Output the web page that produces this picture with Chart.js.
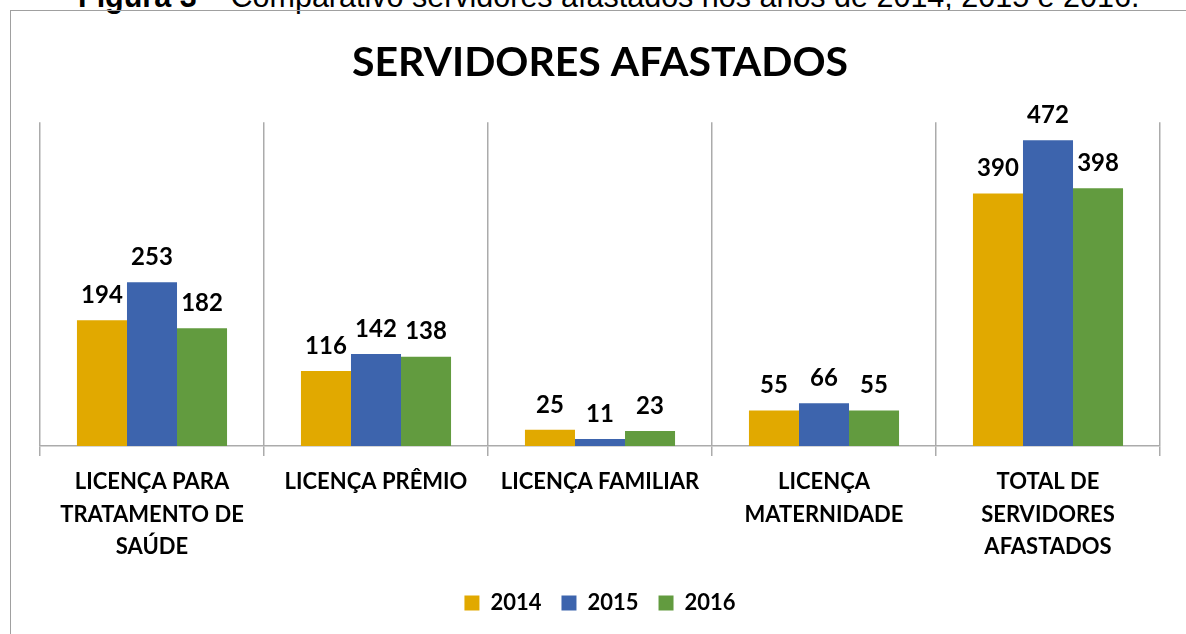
<!DOCTYPE html>
<html>
<head>
<meta charset="utf-8">
<script src="https://cdn.jsdelivr.net/npm/chart.js@4.4.1/dist/chart.umd.min.js"></script>
<style>
  html, body { margin: 0; padding: 0; background: #fff; overflow: hidden; }
  #wrap { position: relative; width: 1186px; height: 634px; overflow: hidden; }
  #caption { position: absolute; left: 78px; top: -19px; font: 30.5px/30px "Liberation Sans", Arial, sans-serif; color: #000; white-space: nowrap; }
  #caption b { font-weight: bold; }
  #frame { position: absolute; left: 10px; top: 10px; width: 1300px; height: 800px; border: 1px solid #a0a0a0; }
  #c { position: absolute; left: 0; top: 0; }
</style>
</head>
<body>
<div id="wrap">
  <div id="caption"><b>Figura 3</b> – Comparativo servidores afastados nos anos de 2014, 2015 e 2016.</div>
  <div id="frame"></div>
  <canvas id="c" width="1186" height="634"></canvas>
</div>
<script>
const categories = [
  ["LICENÇA PARA", "TRATAMENTO DE", "SAÚDE"],
  ["LICENÇA PRÊMIO"],
  ["LICENÇA FAMILIAR"],
  ["LICENÇA", "MATERNIDADE"],
  ["TOTAL DE", "SERVIDORES", "AFASTADOS"]
];
const seriesNames = ["2014", "2015", "2016"];
const values2014 = [194, 116, 25, 55, 390];
const values2015 = [253, 142, 11, 66, 472];
const values2016 = [182, 138, 23, 55, 398];
const seriesColors = ["#E1A900", "#3D64AD", "#629B3F"];

const FONT = "Lato, 'Open Sans', sans-serif";

const dataLabels = {
  id: 'dataLabels',
  afterDatasetsDraw(chart) {
    const ctx = chart.ctx;
    ctx.save();
    ctx.font = "bold 24px " + FONT;
    ctx.fillStyle = "#000";
    ctx.textAlign = "center";
    ctx.textBaseline = "middle";
    chart.data.datasets.forEach((ds, i) => {
      const meta = chart.getDatasetMeta(i);
      meta.data.forEach((bar, j) => {
        ctx.fillText(String(ds.data[j]), bar.x, bar.y - 25);
      });
    });
    ctx.restore();
  }
};

new Chart(document.getElementById('c'), {
  type: 'bar',
  data: {
    labels: categories,
    datasets: [
      { label: seriesNames[0], data: values2014, backgroundColor: seriesColors[0] },
      { label: seriesNames[1], data: values2015, backgroundColor: seriesColors[1] },
      { label: seriesNames[2], data: values2016, backgroundColor: seriesColors[2] }
    ]
  },
  options: {
    responsive: false,
    animation: false,
    devicePixelRatio: 1,
    layout: { padding: { left: 40, right: 26, top: 0, bottom: 10 } },
    datasets: { bar: { categoryPercentage: 0.67, barPercentage: 1.0 } },
    plugins: {
      tooltip: { enabled: false },
      title: {
        display: true,
        text: 'SERVIDORES AFASTADOS',
        color: '#000',
        font: { family: FONT, size: 41, weight: 'bold', lineHeight: 1.2 },
        padding: { top: 38, bottom: 35 }
      },
      legend: {
        position: 'bottom',
        labels: {
          color: '#000',
          font: { family: FONT, size: 22, weight: 'bold' },
          boxWidth: 15,
          boxHeight: 15,
          padding: 20
        }
      }
    },
    scales: {
      x: {
        grid: { display: true, offset: true, color: '#ababab', lineWidth: 1.5, tickLength: 10, drawOnChartArea: true },
        border: { display: true, color: '#ababab', width: 1.5 },
        ticks: {
          color: '#000',
          font: { family: FONT, size: 22, weight: 'bold', lineHeight: 1.48 },
          padding: 10,
          maxRotation: 0,
          autoSkip: false
        },
        afterFit(scale) { scale.height = 126; }
      },
      y: {
        display: false,
        min: 0,
        max: 500
      }
    }
  },
  plugins: [dataLabels]
});
</script>
</body>
</html>
